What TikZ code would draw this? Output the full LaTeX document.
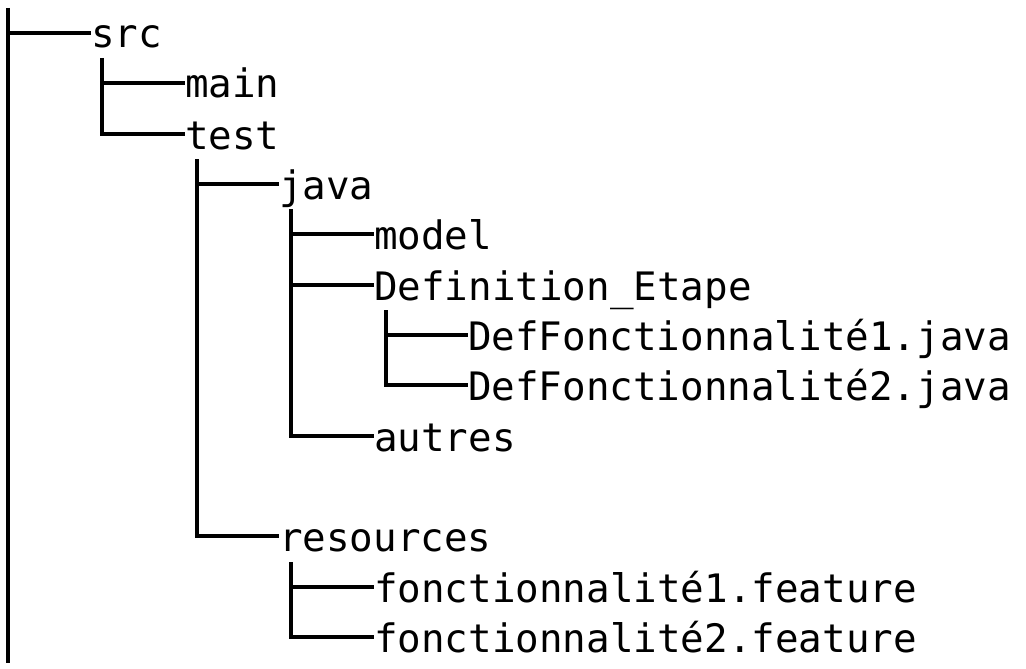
\documentclass[tikz,border=0pt]{standalone}
\usepackage{fontspec}
\newfontfamily\treefont{DejaVu Sans Mono}
\begin{document}
\begin{tikzpicture}[x=1pt,y=-1pt,
  item/.style={anchor=west, inner sep=0pt, text height=32pt, text depth=2pt,
    font=\treefont\fontsize{39.2pt}{47pt}\selectfont},
  tree/.style={line width=4pt, black}]
\useasboundingbox (0,0) rectangle (1026,669);
% text nodes
\node[item] (src)       at (91,33)  {src};
\node[item] (main)      at (185,83) {main};
\node[item] (test)      at (185,134){test};
\node[item] (java)      at (279,184){java};
\node[item] (model)     at (374,234){model};
\node[item] (defe)      at (374,285){Definition\_Etape};
\node[item] (def1)      at (468,335){DefFonctionnalité1.java};
\node[item] (def2)      at (468,385){DefFonctionnalité2.java};
\node[item] (autres)    at (374,436){autres};
\node[item] (resources) at (279,536){resources};
\node[item] (feat1)     at (374,587){fonctionnalité1.feature};
\node[item] (feat2)     at (374,637){fonctionnalité2.feature};
% trunk coordinates
\coordinate (rootTop) at (8,8);
\coordinate (rootBot) at (8,663);
\coordinate (srcV)  at (102,58);
\coordinate (testV) at (197,159);
\coordinate (javaV) at (291,209);
\coordinate (defV)  at (386,310);
\coordinate (resV)  at (291,562);
% connectors
\draw[tree] (rootTop) -- (rootBot);
\draw[tree] (rootTop |- src.west) -- (src.west);
\draw[tree] (srcV) |- (test.west);
\draw[tree] (srcV |- main.west) -- (main.west);
\draw[tree] (testV) |- (resources.west);
\draw[tree] (testV |- java.west) -- (java.west);
\draw[tree] (javaV) |- (autres.west);
\draw[tree] (javaV |- model.west) -- (model.west);
\draw[tree] (javaV |- defe.west) -- (defe.west);
\draw[tree] (defV) |- (def2.west);
\draw[tree] (defV |- def1.west) -- (def1.west);
\draw[tree] (resV) |- (feat2.west);
\draw[tree] (resV |- feat1.west) -- (feat1.west);
\end{tikzpicture}
\end{document}
